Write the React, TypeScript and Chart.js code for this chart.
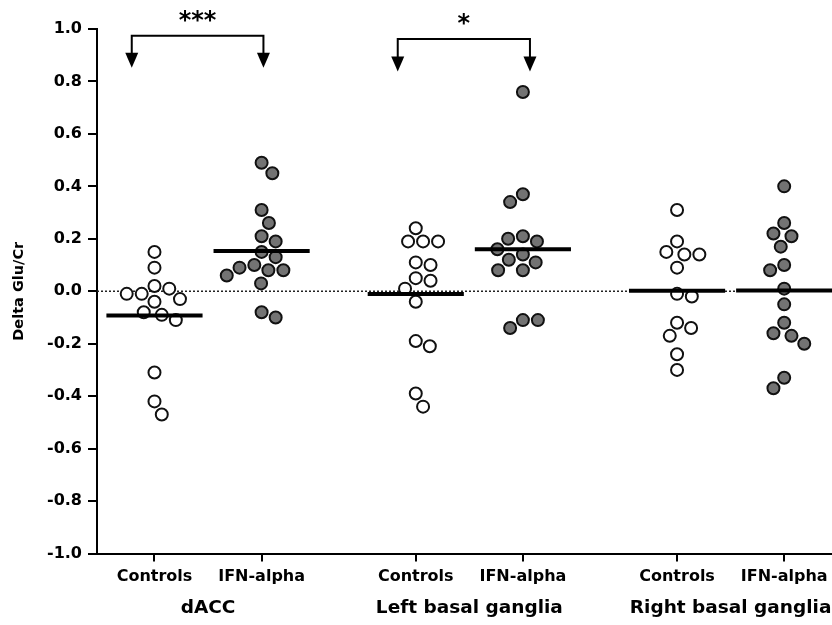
import React, { useEffect, useRef } from 'react';
import { Chart, registerables } from 'chart.js';

Chart.register(...registerables);

// ---------- data ----------
const groupNames = ['dACC', 'Left basal ganglia', 'Right basal ganglia'];
const conditionNames = ['Controls', 'IFN-alpha'];
const yTickValues = [-1.0, -0.8, -0.6, -0.4, -0.2, 0.0, 0.2, 0.4, 0.6, 0.8, 1.0];

const dAccControls = [0.15, 0.09, 0.02, 0.01, -0.01, -0.01, -0.03, -0.04, -0.08, -0.09, -0.11, -0.31, -0.42, -0.47];
const dAccIfn = [0.49, 0.45, 0.31, 0.26, 0.21, 0.19, 0.15, 0.13, 0.1, 0.09, 0.08, 0.08, 0.06, 0.03, -0.08, -0.1];
const leftBgControls = [0.24, 0.19, 0.19, 0.19, 0.11, 0.1, 0.05, 0.04, 0.01, -0.04, -0.19, -0.21, -0.39, -0.44];
const leftBgIfn = [0.76, 0.37, 0.34, 0.21, 0.2, 0.19, 0.16, 0.14, 0.12, 0.11, 0.08, 0.08, -0.11, -0.11, -0.14];
const rightBgControls = [0.31, 0.19, 0.15, 0.14, 0.14, 0.09, -0.01, -0.02, -0.12, -0.14, -0.17, -0.24, -0.3];
const rightBgIfn = [0.4, 0.26, 0.22, 0.21, 0.17, 0.1, 0.08, 0.01, -0.05, -0.12, -0.16, -0.17, -0.2, -0.33, -0.37];

const seriesByGroup = [
  [dAccControls, dAccIfn],
  [leftBgControls, leftBgIfn],
  [rightBgControls, rightBgIfn],
];

const significanceLabels = ['***', '*'];

// ---------- layout / style ----------
const FONT = "'DejaVu Sans', sans-serif";
const X_MIN = 0.575;
const X_MAX = 3.388;
const CAT_OFFSET = 0.205;
const MEAN_HALF = 0.184;
const PX_PER_X = 261.25;
const PX_PER_Y = 262.1;
const SWARM_D = 15;
const bracketLayout = [
  { left: -0.292, right: 0.212, lineY: 0.974, tipY: 0.852 },
  { left: -0.274, right: 0.232, lineY: 0.962, tipY: 0.838 },
];

const catX = (g: number, c: number) => g + 1 + (c === 0 ? -CAT_OFFSET : CAT_OFFSET);
const catPositions: number[] = [];
const catLabels: string[] = [];
groupNames.forEach((_, g) => conditionNames.forEach((n, c) => { catPositions.push(catX(g, c)); catLabels.push(n); }));

// beeswarm: horizontal offsets (in x units) so markers do not overlap
function swarm(values: number[]): number[] {
  const order = values.map((v, i) => i).sort((a, b) => values[b] - values[a]);
  const placed: { x: number; y: number }[] = [];
  const out = new Array(values.length).fill(0);
  const d = SWARM_D;
  order.forEach((idx, k) => {
    const y = values[idx] * PX_PER_Y;
    const cands = [0];
    placed.forEach((p) => {
      const dy = Math.abs(p.y - y);
      if (dy < d) {
        const dx = Math.sqrt(d * d - dy * dy);
        cands.push(p.x + dx, p.x - dx);
      }
    });
    const ok = cands.filter((cx) => placed.every((p) => (p.x - cx) ** 2 + (p.y - y) ** 2 >= d * d - 0.01));
    ok.sort((a, b) => Math.abs(a) - Math.abs(b) || (k % 2 === 0 ? a - b : b - a));
    const x = ok.length ? ok[0] : 0;
    placed.push({ x, y });
    out[idx] = x / PX_PER_X;
  });
  return out;
}

const mean = (a: number[]) => a.reduce((s, v) => s + v, 0) / a.length;

const bracketPlugin = {
  id: 'brackets',
  afterDraw(chart: any) {
    const { ctx, scales } = chart;
    const xs = scales.x;
    const ys = scales.y;
    ctx.save();
    significanceLabels.forEach((label, g) => {
      const b = bracketLayout[g];
      const x1 = xs.getPixelForValue(g + 1 + b.left);
      const x2 = xs.getPixelForValue(g + 1 + b.right);
      const yl = ys.getPixelForValue(b.lineY);
      const yt = ys.getPixelForValue(b.tipY);
      ctx.strokeStyle = '#000';
      ctx.lineWidth = 2;
      ctx.beginPath();
      ctx.moveTo(x1, yt - 12);
      ctx.lineTo(x1, yl);
      ctx.lineTo(x2, yl);
      ctx.lineTo(x2, yt - 12);
      ctx.stroke();
      ctx.fillStyle = '#000';
      [x1, x2].forEach((x) => {
        ctx.beginPath();
        ctx.moveTo(x - 6.5, yt - 15);
        ctx.lineTo(x + 6.5, yt - 15);
        ctx.lineTo(x, yt);
        ctx.closePath();
        ctx.fill();
      });
      ctx.font = `bold 24px ${FONT}`;
      ctx.textAlign = 'center';
      ctx.textBaseline = 'alphabetic';
      ctx.fillText(label, (x1 + x2) / 2, yl - 8);
    });
    ctx.restore();
  },
};

const noSidePadding = (axis: any) => { axis.paddingLeft = 0; axis.paddingRight = 0; };

export default function App() {
  const ref = useRef<HTMLCanvasElement | null>(null);

  useEffect(() => {
    if (!ref.current) return;
    const datasets: any[] = [];
    datasets.push({
      type: 'line',
      data: [{ x: X_MIN, y: 0 }, { x: X_MAX, y: 0 }],
      borderColor: '#222',
      borderWidth: 1.5,
      borderDash: [2, 2],
      pointRadius: 0,
      showLine: true,
      order: 3,
    });
    seriesByGroup.forEach((pair, g) => {
      pair.forEach((vals, c) => {
        const cx = catX(g, c);
        const offs = swarm(vals);
        datasets.push({
          type: 'scatter',
          data: vals.map((v, i) => ({ x: cx + offs[i], y: v })),
          pointRadius: 6,
          pointHoverRadius: 6,
          borderWidth: 2,
          borderColor: '#111',
          backgroundColor: c === 0 ? '#ffffff' : '#737373',
          order: 2,
        });
        const m = mean(vals);
        datasets.push({
          type: 'line',
          data: [{ x: cx - MEAN_HALF, y: m }, { x: cx + MEAN_HALF, y: m }],
          borderColor: '#000',
          borderWidth: 4,
          pointRadius: 0,
          showLine: true,
          order: 1,
        });
      });
    });

    const chart = new Chart(ref.current, {
      type: 'scatter',
      data: { datasets },
      options: {
        animation: false,
        responsive: false,
        devicePixelRatio: 1,
        layout: { autoPadding: false, padding: { top: 29, right: 0, bottom: 0, left: 0 } },
        plugins: { legend: { display: false }, tooltip: { enabled: false } },
        scales: {
          x: {
            type: 'linear',
            position: 'bottom',
            min: X_MIN,
            max: X_MAX,
            weight: 0,
            afterBuildTicks: (axis: any) => { axis.ticks = catPositions.map((v) => ({ value: v })); },
            afterFit: (axis: any) => { axis.height = 36; noSidePadding(axis); },
            border: { display: true, color: '#000', width: 2 },
            grid: { display: true, drawOnChartArea: false, drawTicks: true, tickLength: 8, color: '#000', lineWidth: 2 },
            ticks: {
              autoSkip: false,
              maxRotation: 0,
              padding: 6,
              color: '#000',
              font: { family: FONT, size: 16, weight: 'bold' },
              callback: (_v: any, i: number) => catLabels[i],
            },
          },
          x2: {
            type: 'linear',
            position: 'bottom',
            min: X_MIN,
            max: X_MAX,
            weight: 1,
            afterBuildTicks: (axis: any) => { axis.ticks = groupNames.map((_, g) => ({ value: g + 1 })); },
            afterFit: (axis: any) => { axis.height = 35.5; noSidePadding(axis); },
            border: { display: false },
            grid: { display: false, drawTicks: false },
            ticks: {
              autoSkip: false,
              maxRotation: 0,
              padding: 8,
              color: '#000',
              font: { family: FONT, size: 18.5, weight: 'bold' },
              callback: (_v: any, i: number) => groupNames[i],
            },
          },
          y: {
            type: 'linear',
            min: -1,
            max: 1,
            afterBuildTicks: (axis: any) => { axis.ticks = yTickValues.map((v) => ({ value: v })); },
            afterFit: (axis: any) => { axis.width = 97; },
            border: { display: true, color: '#000', width: 2 },
            grid: { display: true, drawOnChartArea: false, drawTicks: true, tickLength: 9, color: '#000', lineWidth: 2 },
            ticks: {
              padding: 6,
              color: '#000',
              font: { family: FONT, size: 16, weight: 'bold' },
              callback: (v: any) => (Math.abs(v) < 1e-9 ? '0.0' : Number(v).toFixed(1)),
            },
            title: {
              display: true,
              text: 'Delta Glu/Cr',
              color: '#000',
              font: { family: FONT, size: 14.5, weight: 'bold' },
              padding: { top: 11, bottom: 0 },
            },
          },
        },
      },
      plugins: [bracketPlugin],
    } as any);
    return () => chart.destroy();
  }, []);

  return (
    <div style={{ position: 'fixed', left: 0, top: 0, width: 832, height: 625, background: '#fff' }}>
      <canvas ref={ref} width={832} height={625} />
    </div>
  );
}
